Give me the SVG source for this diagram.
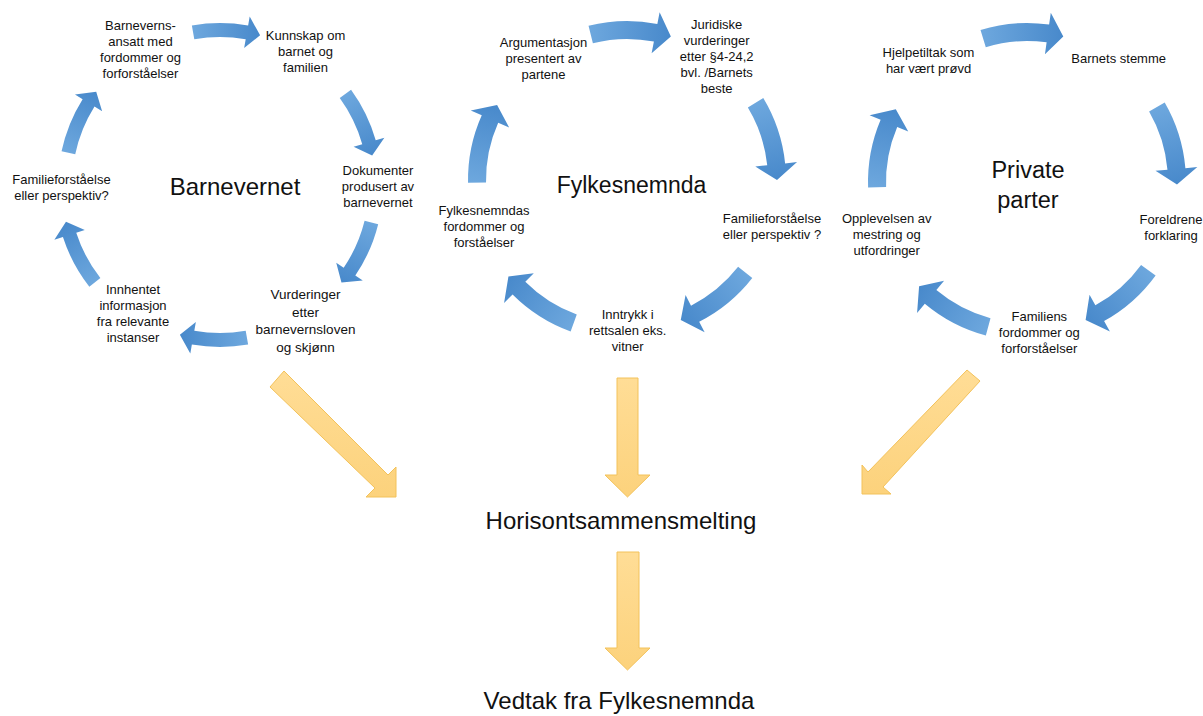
<svg xmlns="http://www.w3.org/2000/svg" width="1203" height="716" viewBox="0 0 1203 716">
<defs>
 <linearGradient id="gBlue" x1="0" y1="0" x2="1" y2="0">
  <stop offset="0" stop-color="#6EA8DE"/>
  <stop offset="1" stop-color="#4889CB"/>
 </linearGradient>
 <linearGradient id="gYel" x1="0" y1="0" x2="0" y2="1">
  <stop offset="0" stop-color="#FFDD96"/>
  <stop offset="1" stop-color="#FCD27C"/>
 </linearGradient>
 <path id="arcS" d="M -28.13,-159.54 A 162 162 0 0 1 28.13,-159.54 L 29.69,-168.40 L 40.12,-149.72 L 24.14,-136.89 L 25.70,-145.75 A 148 148 0 0 0 -25.70,-145.75 Z"/>
 <path id="arcL" d="M -41.15,-153.58 A 159 159 0 0 1 27.61,-156.58 L 29.69,-168.40 L 41.35,-144.19 L 22.40,-127.04 L 24.48,-138.86 A 141 141 0 0 0 -36.49,-136.20 Z"/>
</defs>
<style>
 .arc{fill:url(#gBlue)}
 .yel{fill:url(#gYel);stroke:#F3C25A;stroke-width:1}
 .lbl{font-family:"Liberation Sans",Arial,sans-serif;font-size:13px;fill:#111;text-anchor:middle}
 .big{font-family:"Liberation Sans",Arial,sans-serif;font-size:24px;fill:#111;text-anchor:middle}
</style>
<rect width="1203" height="716" fill="#fff"/>

<g id="connectors">
 <g id="cycle-barnevernet-arrows" class="arc">
  <use href="#arcS" transform="translate(220,185) rotate(0)"/>
  <use href="#arcS" transform="translate(220,185) rotate(64)"/>
  <use href="#arcS" transform="translate(221,185) rotate(114)"/>
  <use href="#arcS" transform="translate(220,185) rotate(180)"/>
  <use href="#arcS" transform="translate(217,187) rotate(242)"/>
  <use href="#arcS" transform="translate(220,185) rotate(292)"/>
 </g>
 <g id="cycle-fylkesnemnda-arrows" class="arc">
  <use href="#arcL" transform="translate(627,180) rotate(1)"/>
  <use href="#arcL" transform="translate(627,180) rotate(74)"/>
  <use href="#arcL" transform="translate(627,180) rotate(143)"/>
  <use href="#arcL" transform="translate(625,182) rotate(215)"/>
  <use href="#arcL" transform="translate(627,180) rotate(284)"/>
 </g>
 <g id="cycle-private-arrows" class="arc">
  <use href="#arcL" transform="translate(1027,182) rotate(-2)"/>
  <use href="#arcL" transform="translate(1027,182) rotate(75)"/>
  <use href="#arcL" transform="translate(1027,182) rotate(141)"/>
  <use href="#arcL" transform="translate(1027,182) rotate(210)"/>
  <use href="#arcL" transform="translate(1027,182) rotate(283)"/>
 </g>
 <g id="merge-arrows">
  <polygon class="yel" points="270,387 284,371 388,475 396,467 396,497 366,497 375,488"/>
  <polygon class="yel" points="617,378 638,378 638,475 650,475 627.5,497 605,475 617,475"/>
  <polygon class="yel" points="967,370 980,381 883,487 891,494 862,494 862,465 868,472"/>
  <polygon class="yel" points="617,552 639,552 639,648 650,648 627.5,670 605,648 617,648"/>
 </g>
</g>

<g id="barnevernet"><text class="big" x="235" y="195">Barnevernet</text></g>
<g id="bv-ansatt"><text class="lbl"><tspan x="140.5" y="30">Barneverns-</tspan><tspan x="140.5" y="46">ansatt med</tspan><tspan x="140.5" y="62">fordommer og</tspan><tspan x="140.5" y="78">forforståelser</tspan></text></g>
<g id="bv-kunnskap"><text class="lbl"><tspan x="305.5" y="39.5">Kunnskap om</tspan><tspan x="305.5" y="55.5">barnet og</tspan><tspan x="305.5" y="71.5">familien</tspan></text></g>
<g id="bv-dokumenter"><text class="lbl"><tspan x="378" y="175">Dokumenter</tspan><tspan x="378" y="191">produsert av</tspan><tspan x="378" y="207">barnevernet</tspan></text></g>
<g id="bv-vurderinger"><text class="lbl" style="font-size:13.5px"><tspan x="305.5" y="299">Vurderinger</tspan><tspan x="305.5" y="316.7">etter</tspan><tspan x="305.5" y="334.4">barnevernsloven</tspan><tspan x="305.5" y="352">og skjønn</tspan></text></g>
<g id="bv-innhentet"><text class="lbl"><tspan x="133" y="293.5">Innhentet</tspan><tspan x="133" y="309.5">informasjon</tspan><tspan x="133" y="325.5">fra relevante</tspan><tspan x="133" y="341.5">instanser</tspan></text></g>
<g id="bv-familie"><text class="lbl"><tspan x="61.5" y="183.5">Familieforståelse</tspan><tspan x="61.5" y="199.5">eller perspektiv?</tspan></text></g>

<g id="fylkesnemnda"><text class="big" x="631.5" y="193" style="font-size:23px">Fylkesnemnda</text></g>
<g id="fn-argumentasjon"><text class="lbl"><tspan x="543.5" y="47">Argumentasjon</tspan><tspan x="543.5" y="63">presentert av</tspan><tspan x="543.5" y="79">partene</tspan></text></g>
<g id="fn-juridiske"><text class="lbl"><tspan x="716.7" y="29">Juridiske</tspan><tspan x="716.7" y="45">vurderinger</tspan><tspan x="716.7" y="61">etter §4-24,2</tspan><tspan x="716.7" y="77">bvl. /Barnets</tspan><tspan x="716.7" y="93">beste</tspan></text></g>
<g id="fn-familie"><text class="lbl"><tspan x="772" y="222.5">Familieforståelse</tspan><tspan x="772" y="238.5">eller perspektiv ?</tspan></text></g>
<g id="fn-inntrykk"><text class="lbl"><tspan x="627.7" y="319">Inntrykk i</tspan><tspan x="627.7" y="335">rettsalen eks.</tspan><tspan x="627.7" y="351">vitner</tspan></text></g>
<g id="fn-fordommer"><text class="lbl"><tspan x="484" y="215">Fylkesnemndas</tspan><tspan x="484" y="231">fordommer og</tspan><tspan x="484" y="247">forståelser</tspan></text></g>

<g id="private-parter"><text class="big" style="font-size:23.5px"><tspan x="1028" y="178">Private</tspan><tspan x="1028" y="208">parter</tspan></text></g>
<g id="pp-hjelpetiltak"><text class="lbl"><tspan x="928.5" y="56.7">Hjelpetiltak som</tspan><tspan x="928.5" y="72.7">har vært prøvd</tspan></text></g>
<g id="pp-barnets"><text class="lbl" x="1118.7" y="63">Barnets stemme</text></g>
<g id="pp-foreldrene"><text class="lbl"><tspan x="1171" y="224">Foreldrene</tspan><tspan x="1171" y="240">forklaring</tspan></text></g>
<g id="pp-familiens"><text class="lbl"><tspan x="1039.3" y="320.7">Familiens</tspan><tspan x="1039.3" y="336.7">fordommer og</tspan><tspan x="1039.3" y="352.7">forforståelser</tspan></text></g>
<g id="pp-opplevelsen"><text class="lbl"><tspan x="886.7" y="223.3">Opplevelsen av</tspan><tspan x="886.7" y="239.3">mestring og</tspan><tspan x="886.7" y="255.3">utfordringer</tspan></text></g>

<g id="horisont"><text class="big" x="621" y="529">Horisontsammensmelting</text></g>
<g id="vedtak"><text class="big" x="619" y="709">Vedtak fra Fylkesnemnda</text></g>
</svg>
